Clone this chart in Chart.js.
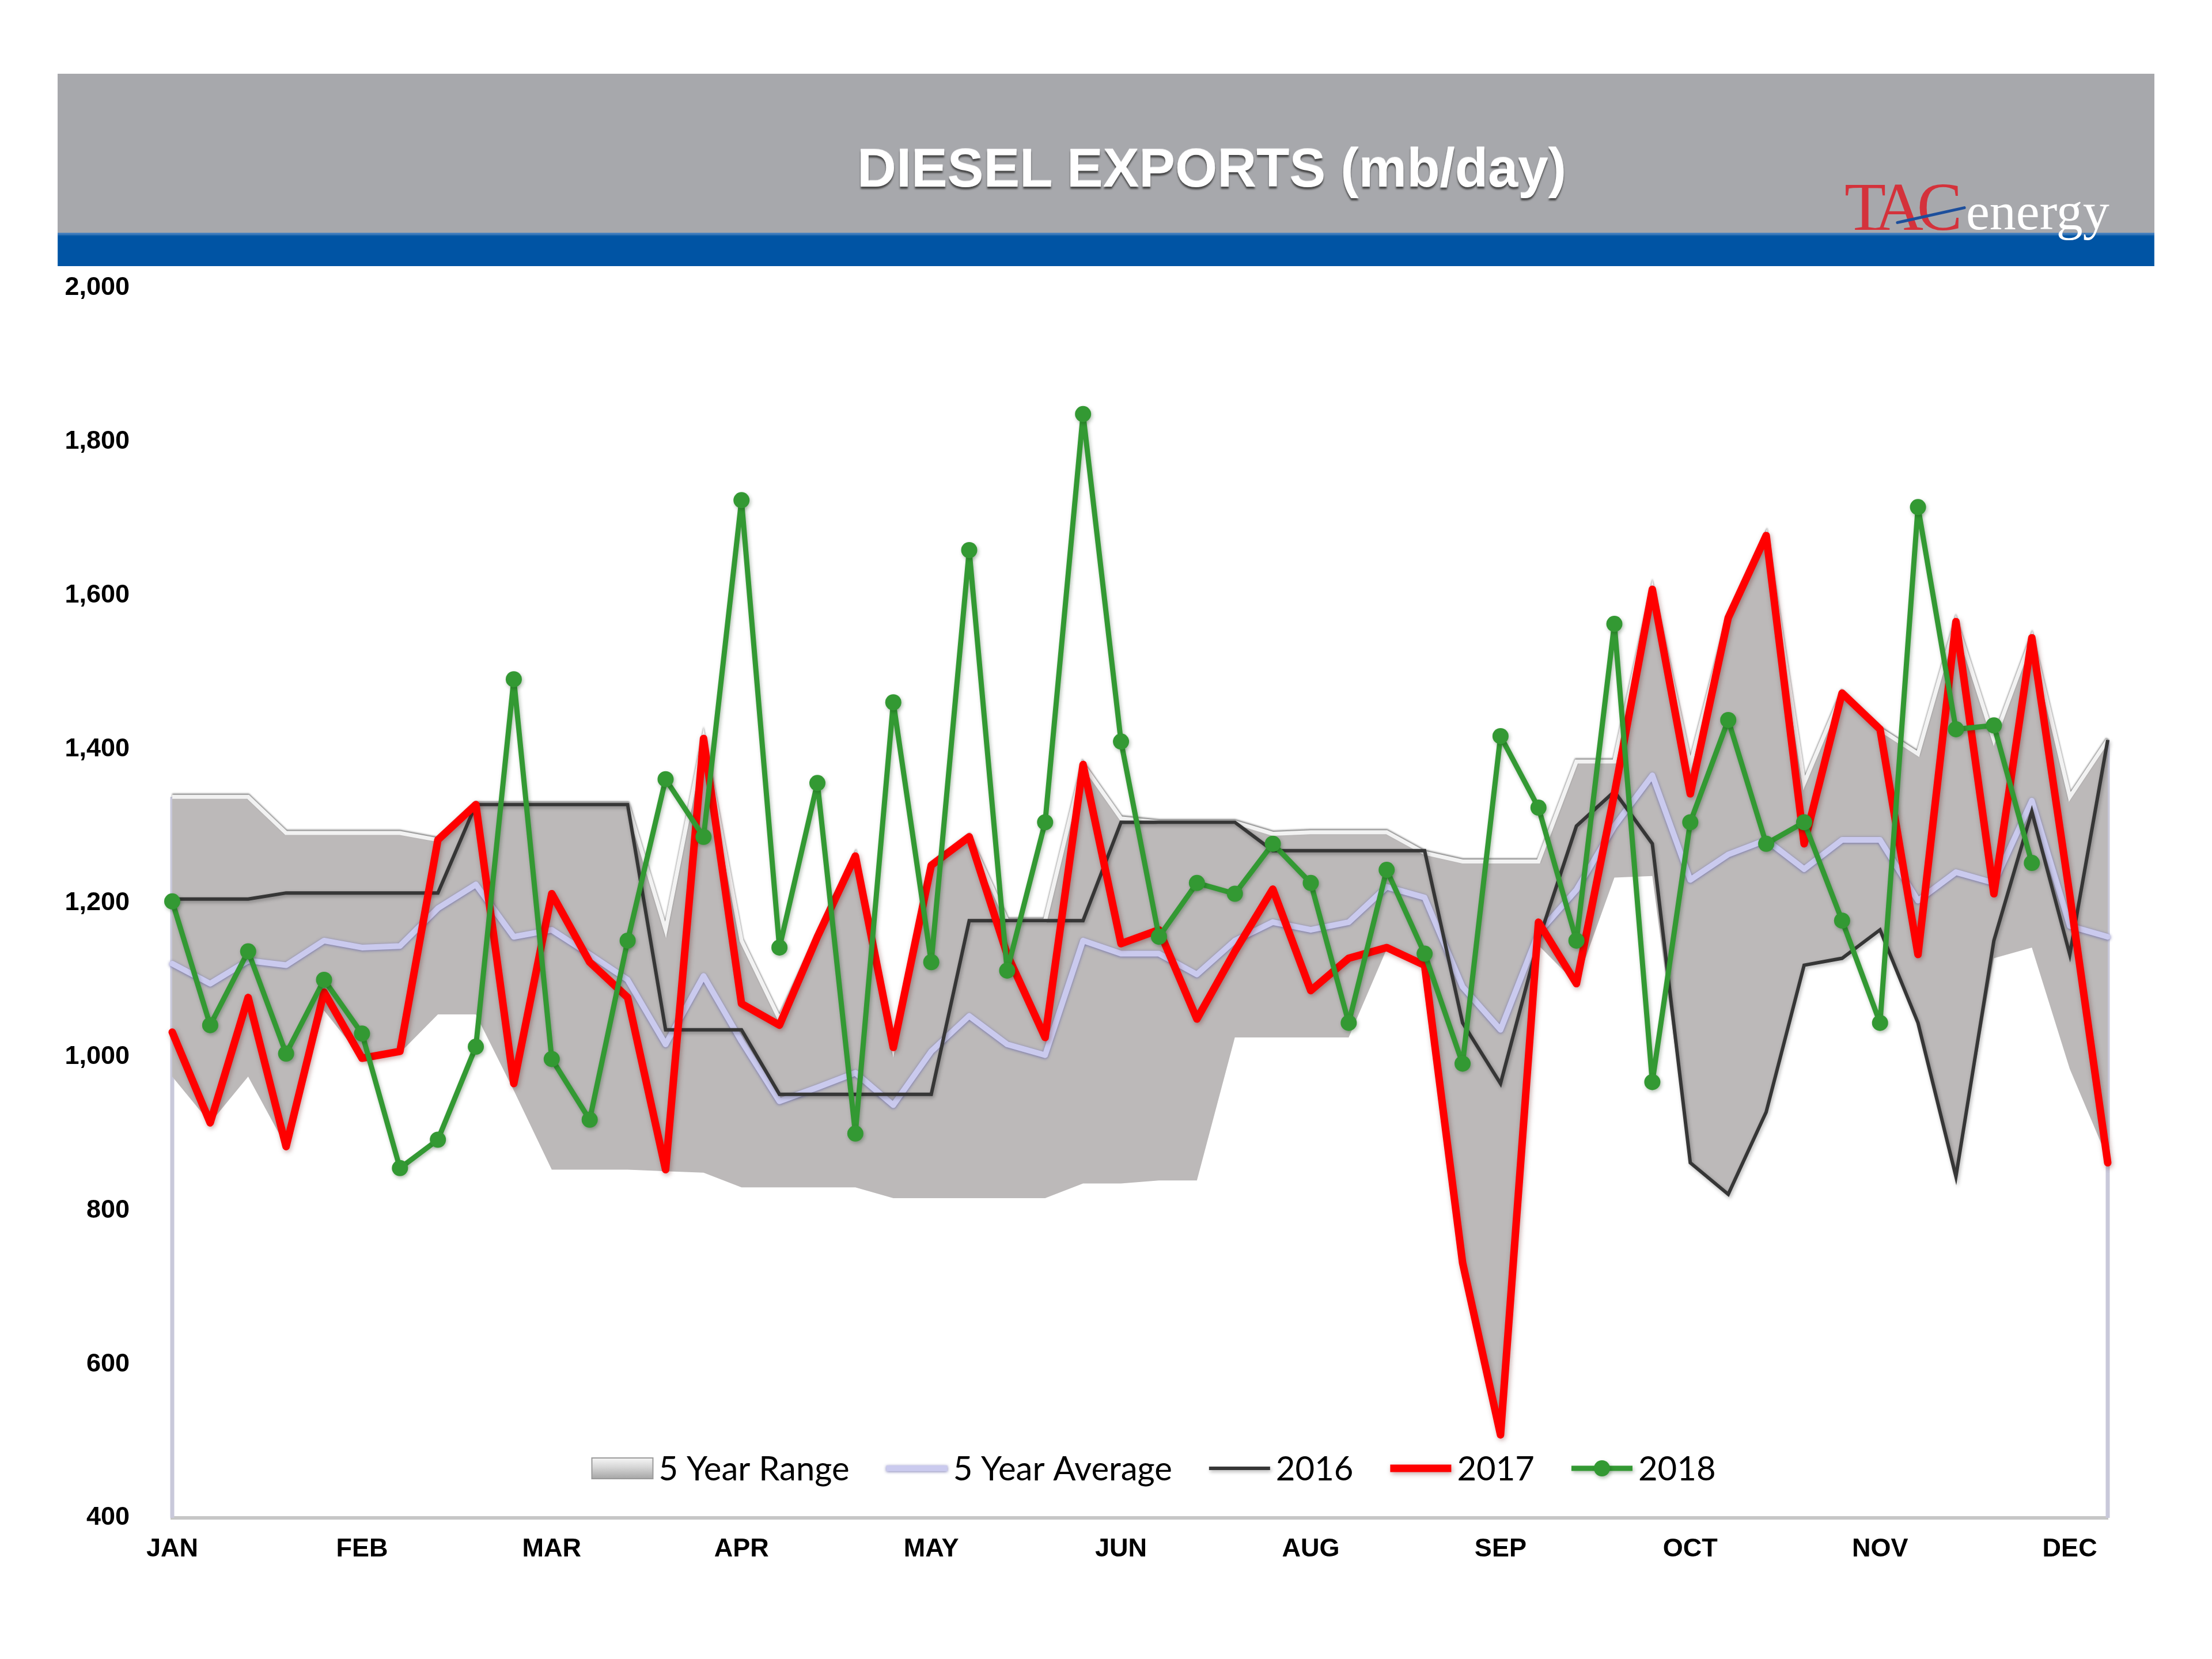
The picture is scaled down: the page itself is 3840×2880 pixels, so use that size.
<!DOCTYPE html>
<html>
<head>
<meta charset="utf-8">
<script src="https://cdn.jsdelivr.net/npm/chart.js@4.4.1/dist/chart.umd.min.js"></script>
<style>
  html, body { margin: 0; padding: 0; background: #ffffff; }
  body { width: 3840px; height: 2880px; position: relative; overflow: hidden; }
  #banner { position: absolute; left: 100px; top: 128px; width: 3640px; height: 276px; background: #a7a8ac; }
  #band { position: absolute; left: 100px; top: 404px; width: 3640px; height: 58px; background: #0054a4;
          box-shadow: inset 0 4px 3px rgba(120,160,210,0.6); }
  #title { position: absolute; left: 1488px; top: 245px; font: bold 94px "Liberation Sans", Arial, sans-serif;
           line-height: 1; color: #ffffff; white-space: nowrap;
           text-shadow: 0 4px 3px rgba(55,55,55,0.85), 0 -1px 0 rgba(255,255,255,0.6); }
  #tac { position: absolute; left: 3202px; top: 301px; font: 118px "Liberation Serif", "Times New Roman", serif;
         line-height: 1; color: #d4323b; letter-spacing: -11px; white-space: nowrap; }
  #energy { position: absolute; left: 3413px; top: 321px; font: 92px "Liberation Serif", "Times New Roman", serif;
            line-height: 1; color: #ffffff; white-space: nowrap; }
  #swoosh { position: absolute; left: 3290px; top: 371px; width: 124px; height: 5px; background: #1d4f9c;
            transform: rotate(-12.5deg); transform-origin: center; border-radius: 3px; }
  #c { position: absolute; left: 0; top: 0; }
</style>
</head>
<body>
<div id="banner"></div>
<div id="band"></div>
<div id="title">DIESEL EXPORTS (mb/day)</div>
<div id="tac">TAC</div>
<div id="energy">energy</div>
<div id="swoosh"></div>
<canvas id="c" width="3840" height="2880"></canvas>
<script>
// ---------------- DATA ----------------
const weeks = [1,2,3,4,5,6,7,8,9,10,11,12,13,14,15,16,17,18,19,20,21,22,23,24,25,26,
               27,28,29,30,31,32,33,34,35,36,37,38,39,40,41,42,43,44,45,46,47,48,49,50,51,52];
const monthTicks = ['JAN','FEB','MAR','APR','MAY','JUN','AUG','SEP','OCT','NOV','DEC'];
const seriesNames = ['5 Year Min','5 Year Range','5 Year Average','2016','2017','2018'];

const rangeMin = [974,914,974,883,1060,998,1005,1055,1055,956,853,853,853,851,849,830,830,830,830,816,
                  816,816,816,816,835,835,839,839,1025,1025,1025,1025,1140,1119,732,508,1145,1095,1233,1235,
                  862,821,928,1119,1128,1165,1044,844,1128,1142,984,867];
const rangeMax = [1338,1338,1338,1291,1291,1291,1291,1282,1328,1328,1328,1328,1328,1165,1414,1151,1049,1156,1261,1012,
                  1249,1286,1177,1177,1380,1310,1305,1305,1305,1290,1292,1292,1292,1265,1254,1254,1254,1384,1384,1608,
                  1380,1571,1678,1356,1473,1426,1394,1566,1412,1545,1338,1412];
const avg5yr   = [1121,1095,1125,1119,1151,1142,1144,1193,1224,1156,1165,1133,1100,1016,1105,1020,942,960,979,937,
                  1007,1053,1016,1002,1151,1134,1134,1107,1151,1175,1165,1175,1221,1207,1091,1035,1161,1217,1300,1366,
                  1230,1263,1282,1244,1282,1282,1203,1240,1226,1333,1170,1156];
const y2016    = [1205,1205,1205,1213,1213,1213,1213,1213,1328,1328,1328,1328,1328,1035,1035,1035,951,951,951,951,
                  951,1177,1177,1177,1177,1305,1305,1305,1305,1268,1268,1268,1268,1268,1044,965,1151,1300,1345,1277,
                  862,821,928,1119,1128,1165,1044,844,1151,1319,1133,1412];
const y2017    = [1032,914,1077,883,1084,998,1007,1282,1328,965,1212,1123,1077,853,1414,1069,1041,1156,1261,1012,
                  1249,1286,1133,1025,1380,1147,1165,1049,1137,1218,1086,1128,1142,1119,732,508,1175,1095,1342,1608,
                  1342,1571,1678,1277,1473,1426,1133,1566,1212,1545,1210,862];
const y2018    = [1202,1041,1137,1004,1100,1030,855,892,1013,1491,997,918,1151,1361,1286,1724,1142,1356,900,1461,
                  1123,1659,1112,1305,1836,1410,1156,1226,1212,1277,1226,1044,1243,1134,991,1417,1324,1151,1563,967,
                  1305,1438,1277,1305,1177,1044,1715,1426,1431,1252];
const legendSeries = [1,2,3,4,5];

// ---------------- PLUGINS ----------------
const shadowPlugin = {
  id: 'shadows',
  beforeDatasetDraw(chart, args) {
    const ds = chart.data.datasets[args.index];
    chart.ctx.save();
    if (ds.shadow) {
      chart.ctx.shadowColor = ds.shadow.color;
      chart.ctx.shadowBlur = ds.shadow.blur;
      chart.ctx.shadowOffsetX = ds.shadow.x;
      chart.ctx.shadowOffsetY = ds.shadow.y;
    }
  },
  afterDatasetDraw(chart) { chart.ctx.restore(); }
};

const edgePlugin = {
  id: 'edges',
  beforeDatasetsDraw(chart) {
    const {ctx, chartArea: ca, scales: {y}} = chart;
    ctx.save();
    ctx.strokeStyle = '#c8c8da';
    ctx.lineWidth = 7;
    ctx.beginPath();
    ctx.moveTo(ca.left, y.getPixelForValue(rangeMax[0]));
    ctx.lineTo(ca.left, ca.bottom);
    ctx.moveTo(ca.right, y.getPixelForValue(rangeMax[rangeMax.length - 1]));
    ctx.lineTo(ca.right, ca.bottom);
    ctx.stroke();
    ctx.restore();
  }
};

const legendPlugin = {
  id: 'innerLegend',
  afterDraw(chart) {
    const {ctx, chartArea: ca} = chart;
    const items = legendSeries.map(i => chart.data.datasets[i]);
    ctx.save();
    ctx.font = '58px Lato, "Liberation Sans", Arial, sans-serif';
    const sw = 106, gapT = 10, gapI = 64;
    const widths = items.map(d => sw + gapT + ctx.measureText(d.label).width);
    const total = widths.reduce((a, b) => a + b, 0) + gapI * (items.length - 1);
    let x = (ca.left + ca.right) / 2 + 24 - total / 2;
    const y = ca.bottom - 86;
    items.forEach((d, k) => {
      if (d.fill) {
        const g = ctx.createLinearGradient(0, y - 18, 0, y + 18);
        g.addColorStop(0, '#f6f6f6');
        g.addColorStop(0.45, '#d6d6d6');
        g.addColorStop(1, '#a6a6a6');
        ctx.fillStyle = g;
        ctx.fillRect(x, y - 18, sw, 36);
        ctx.strokeStyle = '#9a9a9a';
        ctx.lineWidth = 2;
        ctx.strokeRect(x, y - 18, sw, 36);
      } else {
        ctx.save();
        if (d.shadow) {
          ctx.shadowColor = d.shadow.color; ctx.shadowBlur = d.shadow.blur;
          ctx.shadowOffsetX = d.shadow.x; ctx.shadowOffsetY = d.shadow.y;
        }
        ctx.strokeStyle = d.borderColor;
        ctx.lineWidth = d.borderWidth;
        ctx.lineCap = 'butt';
        ctx.beginPath();
        ctx.moveTo(x, y);
        ctx.lineTo(x + sw, y);
        ctx.stroke();
        if (d.pointRadius) {
          ctx.fillStyle = d.pointBackgroundColor;
          ctx.beginPath();
          ctx.arc(x + sw / 2, y, d.pointRadius, 0, Math.PI * 2);
          ctx.fill();
        }
        ctx.restore();
      }
      ctx.fillStyle = '#000000';
      ctx.textBaseline = 'middle';
      ctx.textAlign = 'left';
      ctx.fillText(d.label, x + sw + gapT, y + 2);
      x += widths[k] + gapI;
    });
    ctx.restore();
  }
};

// ---------------- CHART ----------------
Chart.defaults.font.family = '"Liberation Sans", Arial, sans-serif';

new Chart(document.getElementById('c'), {
  type: 'line',
  data: {
    labels: weeks,
    datasets: [
      { label: seriesNames[0], data: rangeMin, borderWidth: 0, borderColor: 'rgba(0,0,0,0)',
        pointRadius: 0, fill: false, order: 6 },
      { label: seriesNames[1], data: rangeMax, borderColor: '#f2f2f2', borderWidth: 7,
        backgroundColor: '#bcb9b9', fill: '-1', pointRadius: 0, order: 5,
        borderJoinStyle: 'miter',
        shadow: {color: 'rgba(70,70,70,0.7)', blur: 3, x: 0, y: -2} },
      { label: seriesNames[2], data: avg5yr, borderColor: '#cacaee', borderWidth: 10, pointRadius: 0,
        fill: false, order: 4, borderJoinStyle: 'round', borderCapStyle: 'round', clip: false,
        shadow: {color: 'rgba(100,100,165,0.85)', blur: 5, x: 0, y: 1} },
      { label: seriesNames[3], data: y2016, borderColor: '#363636', borderWidth: 6, pointRadius: 0,
        fill: false, order: 3, borderJoinStyle: 'miter', clip: false,
        shadow: {color: 'rgba(0,0,0,0.3)', blur: 6, x: 2, y: 3} },
      { label: seriesNames[4], data: y2017, borderColor: '#ff0000', borderWidth: 13, pointRadius: 0,
        fill: false, order: 2, borderJoinStyle: 'round', borderCapStyle: 'round', clip: false,
        shadow: {color: 'rgba(90,0,0,0.35)', blur: 8, x: 2, y: 3} },
      { label: seriesNames[5], data: y2018, borderColor: '#339933', borderWidth: 9, pointRadius: 14,
        pointBackgroundColor: '#339933', pointBorderColor: '#339933', pointBorderWidth: 0,
        fill: false, order: 1, borderJoinStyle: 'round', borderCapStyle: 'round', clip: false,
        shadow: {color: 'rgba(0,50,0,0.3)', blur: 6, x: 2, y: 3} }
    ]
  },
  options: {
    responsive: false,
    animation: false,
    devicePixelRatio: 1,
    layout: { padding: { left: 0, right: 181, top: 500, bottom: 135 } },
    elements: { line: { tension: 0 } },
    plugins: {
      legend: { display: false },
      tooltip: { enabled: false },
      title: { display: false }
    },
    scales: {
      x: {
        type: 'category',
        offset: false,
        grid: { display: false, drawTicks: false },
        border: { display: true, color: '#c6c6c6', width: 6 },
        ticks: {
          autoSkip: false, maxRotation: 0, minRotation: 0, padding: 28,
          color: '#000000', font: { size: 45, weight: 'bold' },
          callback: (v, i) => (i % 5 === 0 ? monthTicks[i / 5] : '')
        },
        afterFit: s => { s.height = 110; }
      },
      y: {
        min: 400, max: 2000,
        grid: { display: false, drawTicks: false },
        border: { display: false },
        ticks: { stepSize: 200, padding: 74, color: '#000000', font: { size: 45, weight: 'bold' } },
        afterFit: s => { s.width = 299; }
      }
    }
  },
  plugins: [shadowPlugin, edgePlugin, legendPlugin]
});
</script>
</body>
</html>
